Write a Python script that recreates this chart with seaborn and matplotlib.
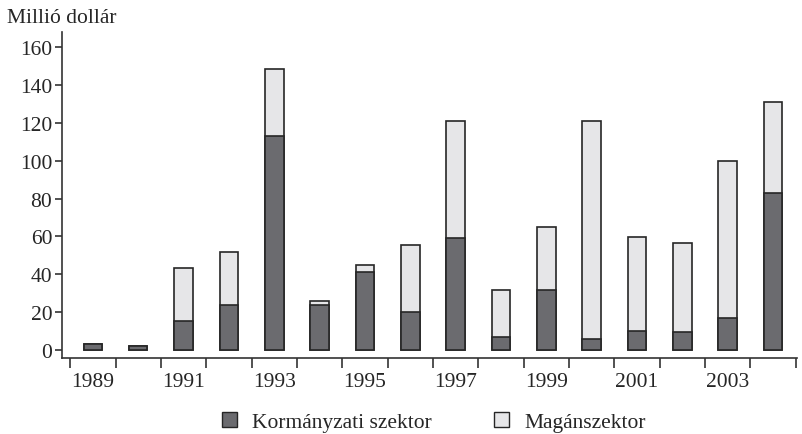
import numpy as np
import pandas as pd
import matplotlib
matplotlib.use("Agg")
import matplotlib.pyplot as plt
from matplotlib.patches import Patch
import seaborn as sns

# ============================================================
# Data (millió dollár)
# ============================================================
years = list(range(1989, 2005))
kormanyzati = [3, 2, 15.6, 24, 113, 24, 41, 20, 59, 6.8, 31.5, 6, 10, 9.5, 16.7, 83]
osszesen = [3, 2, 43.3, 51.6, 148.6, 25.8, 44.8, 55.7, 121, 31.6, 64.8, 120.8, 59.5, 56.7, 99.9, 131]
maganszektor = [t - g for t, g in zip(osszesen, kormanyzati)]

df = pd.DataFrame({"ev": [str(y) for y in years],
                   "gov": kormanyzati,
                   "total": osszesen})

# ============================================================
# Plot
# ============================================================
sns.set_theme(style="white")
plt.rcParams["font.family"] = ["Liberation Serif", "DejaVu Serif"]

dark = "#6b6b6f"
light = "#e6e6e8"
edge = "#262626"
fs = 15.5

fig = plt.figure(figsize=(8.02, 4.35), dpi=100)
ax = fig.add_axes([0.0773, 0.1747, 0.9165, 0.7494])

order = df["ev"].tolist()
sns.barplot(data=df, x="ev", y="total", order=order, color=light,
            edgecolor=edge, linewidth=1.2, width=0.41, saturation=1, ax=ax)
sns.barplot(data=df, x="ev", y="gov", order=order, color=dark,
            edgecolor=edge, linewidth=1.2, width=0.41, saturation=1, ax=ax)

ax.set_xlim(-0.68, 15.53)
ax.set_ylim(-4.2, 168)
ax.set_yticks(range(0, 161, 20))
ax.set_xticks(range(0, 16, 2))
ax.set_xticklabels([str(y) for y in years[::2]])
ax.set_xticks(np.arange(-0.5, 16, 1), minor=True)
ax.set_xlabel("")
ax.set_ylabel("")

for s in ["top", "right"]:
    ax.spines[s].set_visible(False)
for s in ["left", "bottom"]:
    ax.spines[s].set_color("#333333")
    ax.spines[s].set_linewidth(1.2)

ax.tick_params(axis="y", which="major", direction="out", length=5, width=1.2,
               color="#333333", labelsize=fs, pad=2, left=True)
ax.tick_params(axis="x", which="major", length=0, labelsize=fs, pad=10, bottom=True)
ax.tick_params(axis="x", which="minor", direction="out", length=7, width=1.2,
               color="#333333", bottom=True)

fig.text(0.009, 0.958, "Millió dollár", fontsize=fs, ha="left", va="center")

handles = [Patch(facecolor=dark, edgecolor=edge, linewidth=1, label="Kormányzati szektor"),
           Patch(facecolor=light, edgecolor=edge, linewidth=1, label="Magánszektor")]
fig.legend(handles=handles, loc="center", bbox_to_anchor=(0.5405, 0.027), ncol=2,
           frameon=False, fontsize=fs, handlelength=0.7, handleheight=0.7,
           handletextpad=0.7, columnspacing=2.9)

plt.savefig("out.png", dpi=100)
plt.close()
